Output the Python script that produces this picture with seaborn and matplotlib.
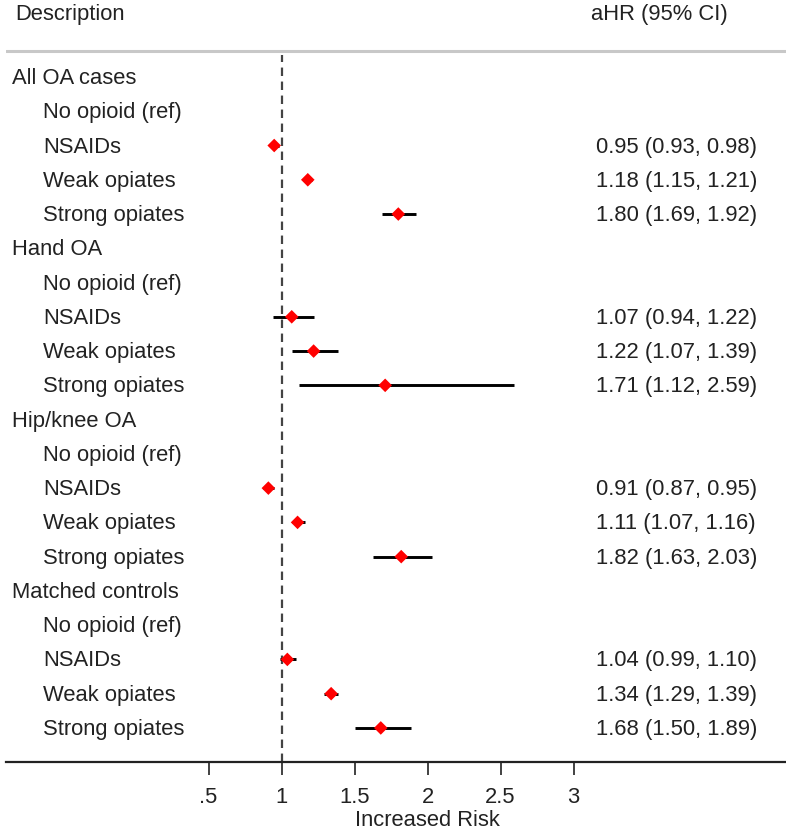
import numpy as np
import pandas as pd
import matplotlib
matplotlib.use("Agg")
import matplotlib.pyplot as plt
import matplotlib.transforms as mtransforms
import seaborn as sns

# ---------------- data ----------------
groups = ["All OA cases", "Hand OA", "Hip/knee OA", "Matched controls"]
items = ["No opioid (ref)", "NSAIDs", "Weak opiates", "Strong opiates"]
hr = [0.95, 1.18, 1.80, 1.07, 1.22, 1.71, 0.91, 1.11, 1.82, 1.04, 1.34, 1.68]
lo = [0.93, 1.15, 1.69, 0.94, 1.07, 1.12, 0.87, 1.07, 1.63, 0.99, 1.29, 1.50]
hi = [0.98, 1.21, 1.92, 1.22, 1.39, 2.59, 0.95, 1.16, 2.03, 1.10, 1.39, 1.89]
xticks = [0.5, 1, 1.5, 2, 2.5, 3]
xticklabels = [".5", "1", "1.5", "2", "2.5", "3"]

# build row table
rows = []
k = 0
for g in groups:
    rows.append(dict(label=g, kind="group", hr=np.nan, lo=np.nan, hi=np.nan))
    for it in items:
        if it.startswith("No opioid"):
            rows.append(dict(label=it, kind="ref", hr=np.nan, lo=np.nan, hi=np.nan))
        else:
            rows.append(dict(label=it, kind="item", hr=hr[k], lo=lo[k], hi=hi[k]))
            k += 1
df = pd.DataFrame(rows)
df["row"] = np.arange(len(df))

# ---------------- figure ----------------
sns.set_theme(style="white")
plt.rcParams["font.family"] = ["Liberation Sans", "DejaVu Sans"]
W, H = 786, 833
fig = plt.figure(figsize=(W / 100, H / 100), dpi=100)

axis_px = 762          # pixel (from top) of bottom axis line
left_px = 6
ax = fig.add_axes([left_px / W, (H - axis_px) / H, (W - left_px) / W, axis_px / H])

row0_px, step_px = 77, 34.26
ax.set_ylim((axis_px - row0_px) / step_px, -row0_px / step_px)
one_px, unit_px = 281.5, 146.0
ax.set_xlim(1 + (left_px - one_px) / unit_px, 1 + (W - one_px) / unit_px)

txt_color = "#222222"
fs = 15.8
txt_off = 1.5 / step_px   # small downward nudge of text

# reference line
ax.plot([1, 1], [(axis_px - row0_px) / step_px, (55 - row0_px) / step_px],
        color="#444444", lw=1.6, ls=(0, (3.8, 2.5)), zorder=1)

# CIs
d = df[df.kind == "item"]
ax.hlines(d["row"], d["lo"], d["hi"], color="black", lw=2.1, zorder=2)
sns.scatterplot(data=d, x="hr", y="row", marker="D", color="red", s=48,
                edgecolor="none", ax=ax, zorder=3, legend=False)

# header separator
ax.axhline((51 - row0_px) / step_px, color="#c8c8c8", lw=2.2, zorder=1)

# texts
tr = mtransforms.blended_transform_factory(fig.transFigure, ax.transData)
hdr_y = (15 - row0_px) / step_px
ax.text(15 / W, hdr_y, "Description", transform=tr, ha="left", va="center",
        fontsize=fs, color=txt_color)
ax.text(591 / W, hdr_y, "aHR (95% CI)", transform=tr, ha="left", va="center",
        fontsize=fs, color=txt_color)
for _, r in df.iterrows():
    x0 = 12 / W if r.kind == "group" else 43 / W
    ax.text(x0, r.row + txt_off, r.label, transform=tr, ha="left", va="center",
            fontsize=fs, color=txt_color)
    if r.kind == "item":
        s = f"{r.hr:.2f} ({r.lo:.2f}, {r.hi:.2f})"
        ax.text(596 / W, r.row + txt_off, s, transform=tr, ha="left", va="center",
                fontsize=fs, color=txt_color)

# axes styling
for sp in ["top", "left", "right"]:
    ax.spines[sp].set_visible(False)
ax.spines["bottom"].set_color("#222222")
ax.spines["bottom"].set_linewidth(1.6)
ax.set_yticks([])
ax.set_ylabel("")
ax.set_xticks(xticks)
ax.set_xticklabels(xticklabels)
ax.tick_params(axis="x", direction="out", length=9, width=1.3, color="#333333",
               pad=9, labelsize=fs, labelcolor=txt_color, bottom=True)
ax.set_xlabel("Increased Risk", fontsize=fs, color=txt_color, va="center")
ax.xaxis.set_label_coords((427 - left_px) / (W - left_px), (axis_px - 821) / axis_px)

ax.set_facecolor("white")
fig.patch.set_facecolor("white")
fig.savefig("out.png", dpi=100, facecolor="white")
